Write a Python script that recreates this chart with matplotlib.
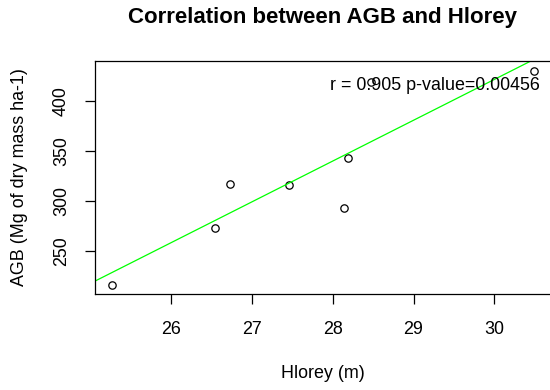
import numpy as np
import matplotlib.pyplot as plt

plt.rcParams['font.family'] = ['Liberation Sans', 'DejaVu Sans']

# stand height (m) and above-ground biomass per plot
hlorey = [25.27, 26.54, 26.73, 27.46, 28.14, 28.19, 28.47, 30.49]
agb = [215.7, 273.0, 317.0, 316.0, 292.7, 343.0, 419.0, 430.0]
r_text = "r = 0.905 p-value=0.00456"
xticks = [26, 27, 28, 29, 30]
yticks = [250, 300, 350, 400]

fs = 12.9

fig = plt.figure(figsize=(5.5, 3.9), dpi=100)
ax = fig.add_axes([95 / 550, 1 - 294 / 390, 456 / 550, (294 - 60.7) / 390])

ax.plot(hlorey, agb, 'o', mfc='none', mec='black', ms=5.3, mew=0.9)

# least squares fit drawn across the whole plot region
slope, icpt = np.polyfit(hlorey, agb, 1)
xl = (25.06, 30.70)
xs = np.array(xl)
ax.plot(xs, icpt + slope * xs, color='#00ff00', lw=0.9)
ax.set_xlim(xl)
ax.set_ylim(206.7, 440)

ax.text(29.26, 415.7, r_text, ha='center', va='center', fontsize=fs)

ax.set_xticks(xticks)
ax.set_yticks(yticks)
ax.tick_params(length=7.5, width=0.9, labelsize=fs)
ax.tick_params(axis='x', pad=12)
ax.tick_params(axis='y', pad=10.5)
for lab in ax.get_yticklabels():
    lab.set_rotation(90)
    lab.set_va('center')
for s in ax.spines.values():
    s.set_linewidth(0.9)

ax.set_xlabel('Hlorey (m)', fontsize=fs, va='center')
ax.xaxis.set_label_coords(0.5, -0.339)
ax.set_ylabel('AGB (Mg of dry mass ha-1)', fontsize=fs, va='center')
ax.yaxis.set_label_coords(-0.1645, 0.5)

fig.text(322 / 550, 1 - 17 / 390, 'Correlation between AGB and Hlorey',
         ha='center', va='center', fontsize=16, fontweight='bold')

fig.savefig('out.png', dpi=100)
